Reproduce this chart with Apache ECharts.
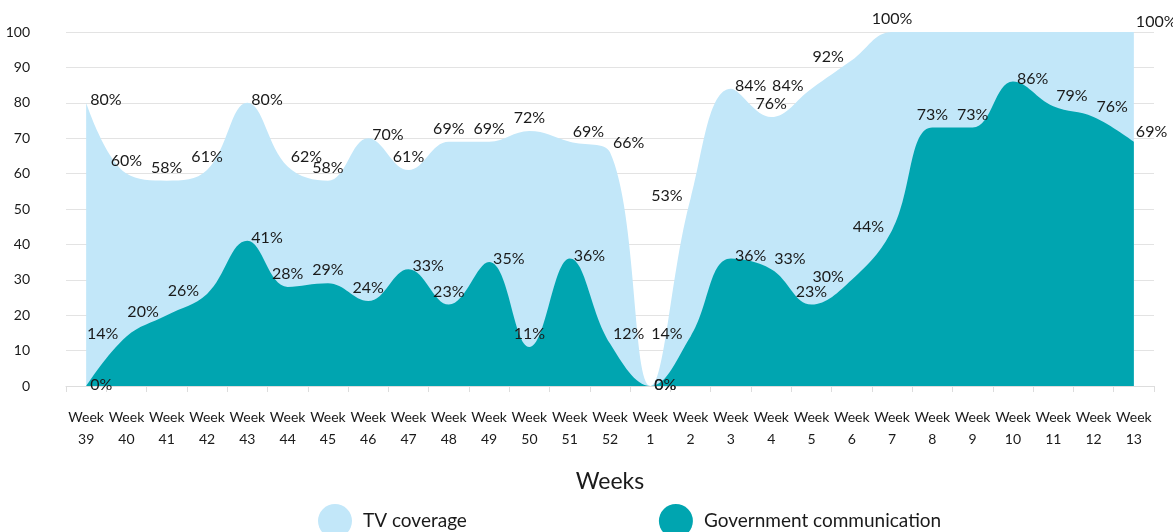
<!DOCTYPE html>
<html>
<head>
<meta charset="utf-8">
<script src="https://cdn.jsdelivr.net/npm/echarts@6/dist/echarts.min.js"></script>
<style>
  html, body { margin: 0; padding: 0; background: #fff; }
  #chart { width: 1173px; height: 532px; }
</style>
</head>
<body>
<div id="chart"></div>
<script>
  const weeks = ['39', '40', '41', '42', '43', '44', '45', '46', '47', '48', '49', '50', '51', '52',
    '1', '2', '3', '4', '5', '6', '7', '8', '9', '10', '11', '12', '13'];
  const tvCoverage = [80, 60, 58, 61, 80, 62, 58, 70, 61, 69, 69, 72, 69, 66,
    0, 53, 84, 76, 84, 92, 100, 100, 100, 100, 100, 100, 100];
  const govCommunication = [0, 14, 20, 26, 41, 28, 29, 24, 33, 23, 35, 11, 36, 12,
    0, 14, 36, 33, 23, 30, 44, 73, 73, 86, 79, 76, 69];
  // TV labels not shown in the original (weeks 8-12)
  const tvHiddenLabels = [21, 22, 23, 24, 25];

  const font = 'Lato, "Open Sans", sans-serif';

  // put the label on the outside of the curve: left when rising, right on peaks / falling, top in valleys
  function labelFor(arr, i) {
    const cur = arr[i];
    const prev = i > 0 ? arr[i - 1] : cur;
    const next = i < arr.length - 1 ? arr[i + 1] : cur;
    const d1 = cur - prev, d2 = next - cur;
    if (cur === 0) return { position: 'right', distance: 4, offset: [0, -1] };
    if (i === arr.length - 1) return { position: 'right', distance: 2, offset: [0, -10] };
    if (d1 >= 0 && d2 < 0 && d1 - d2 > 8) return { position: 'right', distance: 4, offset: [0, -3] };
    if (d1 < 0 && d2 < -2) return { position: 'right', distance: 3, offset: [0, -10] };
    if (d1 > 4 && d2 > 0) return { position: 'left', distance: 8, offset: [0, -3] };
    return { position: 'top', distance: 5, offset: [0, 0] };
  }

  function buildData(arr, hidden) {
    return arr.map((v, i) => ({
      value: v,
      label: Object.assign(labelFor(arr, i), { show: !(hidden || []).includes(i) })
    }));
  }

  const labelStyle = {
    show: true,
    color: '#1a1a1a',
    fontSize: 16,
    fontFamily: font,
    formatter: '{c}%'
  };

  const myChart = echarts.init(document.getElementById('chart'));
  myChart.setOption({
    animation: false,
    grid: { left: 66, right: 19, top: 32, bottom: 146 },
    legend: {
      left: 313,
      top: 499,
      icon: 'circle',
      itemWidth: 34,
      itemHeight: 34,
      itemGap: 192,
      textStyle: { fontSize: 19, color: '#1a1a1a', fontFamily: font, padding: [0, 0, 0, 6] },
      data: ['TV coverage', 'Government communication']
    },
    xAxis: {
      type: 'category',
      boundaryGap: true,
      data: weeks,
      name: 'Weeks',
      nameLocation: 'middle',
      nameGap: 84,
      nameTextStyle: { fontSize: 23, color: '#1a1a1a', fontFamily: font },
      axisLine: { lineStyle: { color: '#dddddd' } },
      axisTick: { show: true, length: 6, lineStyle: { color: '#dddddd' } },
      axisLabel: {
        interval: 0,
        margin: 20,
        color: '#1a1a1a',
        fontSize: 14,
        lineHeight: 22,
        fontFamily: font,
        formatter: v => 'Week\n' + v
      }
    },
    yAxis: {
      type: 'value',
      min: 0,
      max: 100,
      interval: 10,
      axisLine: { show: false },
      axisTick: { show: false },
      axisLabel: { color: '#1a1a1a', fontSize: 14, margin: 36, fontFamily: font },
      splitLine: { lineStyle: { color: '#e3e3e3' } }
    },
    series: [
      {
        name: 'TV coverage',
        type: 'line',
        smooth: 0.4,
        symbol: 'circle',
        symbolSize: 0,
        showSymbol: true,
        data: buildData(tvCoverage, tvHiddenLabels),
        lineStyle: { width: 0 },
        areaStyle: { color: '#c2e7f9', opacity: 1 },
        itemStyle: { color: '#c2e7f9' },
        label: labelStyle,
        z: 1
      },
      {
        name: 'Government communication',
        type: 'line',
        smooth: 0.4,
        symbol: 'circle',
        symbolSize: 0,
        showSymbol: true,
        data: buildData(govCommunication),
        lineStyle: { width: 0 },
        areaStyle: { color: '#00a5b0', opacity: 1 },
        itemStyle: { color: '#00a5b0' },
        label: labelStyle,
        z: 2
      }
    ]
  });
</script>
</body>
</html>
